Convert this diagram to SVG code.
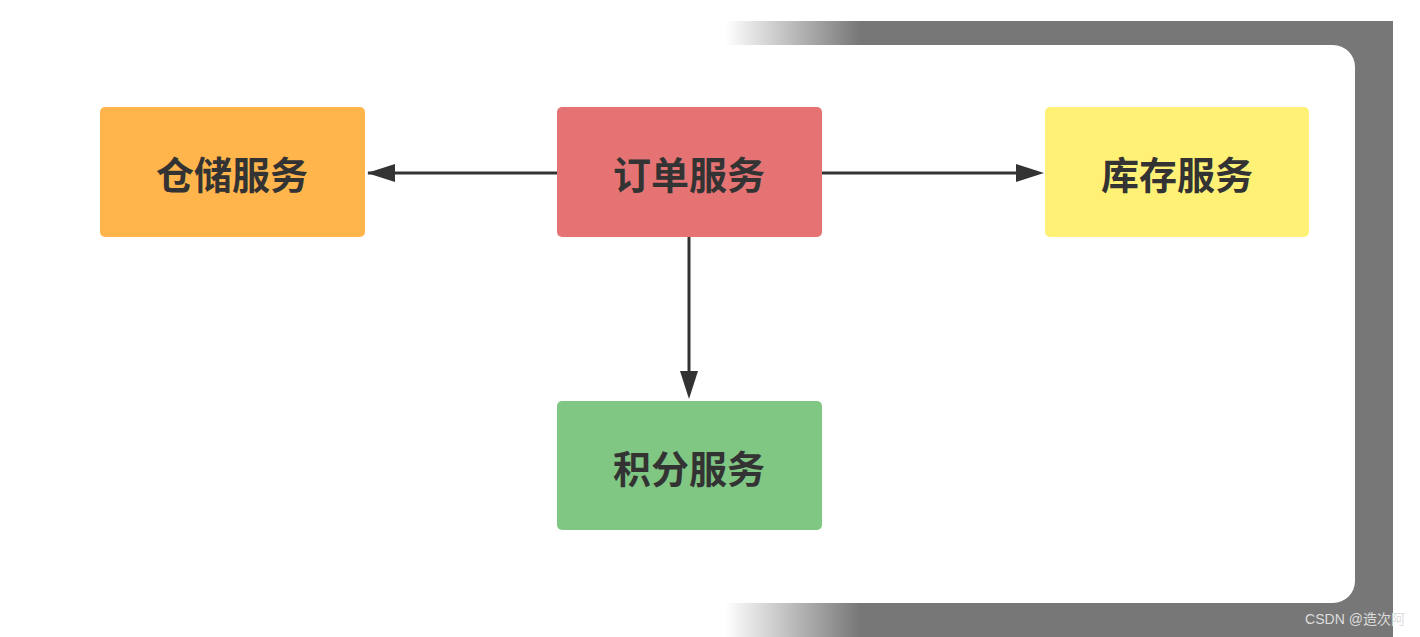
<svg xmlns="http://www.w3.org/2000/svg" width="1420" height="637" viewBox="0 0 1420 637">
<style>
.n{stroke:none}
.t{font-family:"Noto Sans CJK SC","Noto Sans",sans-serif;font-weight:bold;font-size:38px;fill:#333;text-anchor:middle;dominant-baseline:central}
.c{stroke:#333;stroke-width:3;fill:none;marker-end:url(#a)}
</style>
<defs>
<linearGradient id="g" gradientUnits="userSpaceOnUse" x1="725" y1="0" x2="860" y2="0">
<stop offset="0" stop-color="#fff"/><stop offset="1" stop-color="#777"/></linearGradient>
<marker id="a" markerWidth="10" markerHeight="8" refX="9" refY="4" orient="auto" markerUnits="userSpaceOnUse" viewBox="0 0 10 8">
<path d="M0,0L10,4L0,8z" fill="#333"/></marker>
</defs>
<rect width="1420" height="637" fill="#fff"/>
<rect x="722" y="21" width="671" height="616" fill="url(#g)"/>
<rect x="-50" y="45" width="1405" height="558" rx="22" fill="#fff"/>
<text x="1355" y="624" font-family="Liberation Sans,'Noto Sans CJK SC',sans-serif" font-size="14" fill="#ddd" text-anchor="middle">CSDN @造次阿</text>
<g id="connectors">
<path class="c" d="M557,173H368" style="marker-end:none"/><path d="M367,173L395,164V182z" fill="#333"/>
<path class="c" d="M822,173H1020" style="marker-end:none"/><path d="M1044,173L1016,164V182z" fill="#333"/>
<path class="c" d="M689,237V375" style="marker-end:none"/><path d="M689,399L680,371H698z" fill="#333"/>
</g>
<g id="warehouse"><rect x="100" y="107" width="265" height="130" rx="5" fill="#FFB54C"/><text class="t" x="232" y="172">仓储服务</text></g>
<g id="order"><rect x="557" y="107" width="265" height="130" rx="5" fill="#E57373"/><text class="t" x="689" y="172">订单服务</text></g>
<g id="stock"><rect x="1045" y="107" width="264" height="130" rx="5" fill="#FFF176"/><text class="t" x="1177" y="172">库存服务</text></g>
<g id="points"><rect x="557" y="401" width="265" height="129" rx="5" fill="#81C784"/><text class="t" x="689" y="466">积分服务</text></g>
</svg>
